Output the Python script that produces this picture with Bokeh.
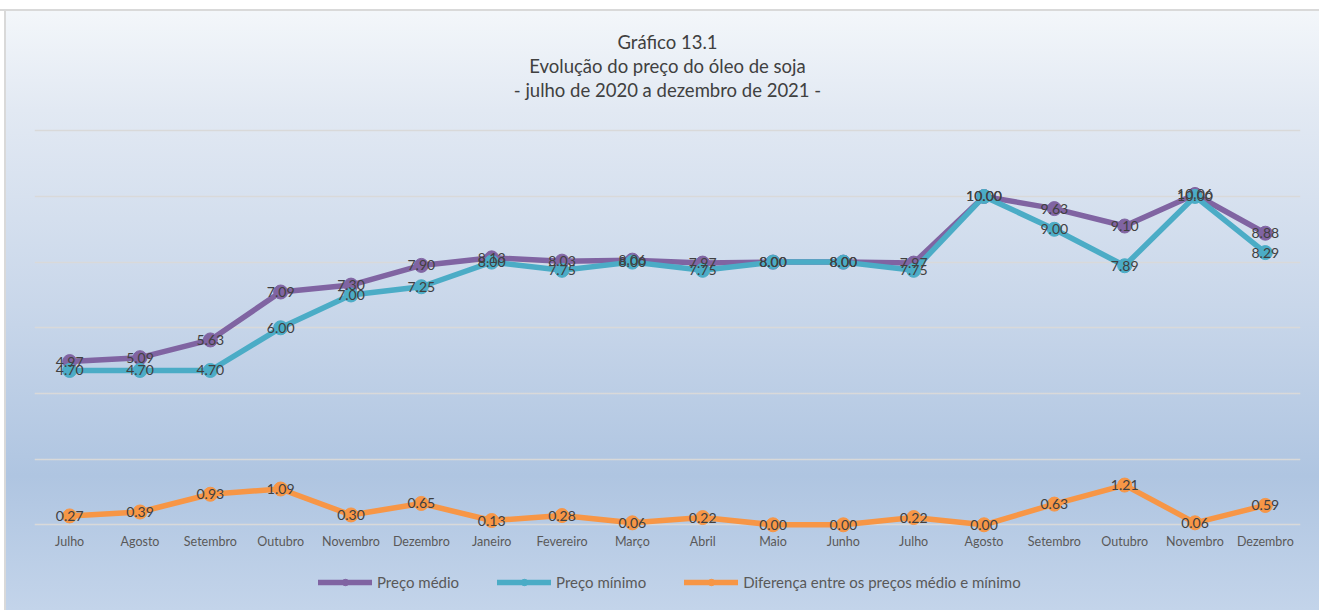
from bokeh.plotting import figure
from bokeh.models import ColumnDataSource, Range1d, FixedTicker, Legend, LegendItem, Title
from bokeh.core.properties import value
from bokeh.embed import file_html
from bokeh.resources import INLINE

months = ["Julho", "Agosto", "Setembro", "Outubro", "Novembro", "Dezembro",
          "Janeiro", "Fevereiro", "Março", "Abril", "Maio", "Junho",
          "Julho", "Agosto", "Setembro", "Outubro", "Novembro", "Dezembro"]
preco_medio = [4.97, 5.09, 5.63, 7.09, 7.30, 7.90, 8.13, 8.03, 8.06, 7.97, 8.00, 8.00,
               7.97, 10.00, 9.63, 9.10, 10.06, 8.88]
preco_minimo = [4.70, 4.70, 4.70, 6.00, 7.00, 7.25, 8.00, 7.75, 8.00, 7.75, 8.00, 8.00,
                7.75, 10.00, 9.00, 7.89, 10.00, 8.29]
diferenca = [0.27, 0.39, 0.93, 1.09, 0.30, 0.65, 0.13, 0.28, 0.06, 0.22, 0.00, 0.00,
             0.22, 0.00, 0.63, 1.21, 0.06, 0.59]
series_names = ["Preço médio", "Preço mínimo", "Diferença entre os preços médio e mínimo"]
title_lines = ["Gráfico 13.1", "Evolução do preço do óleo de soja",
               "- julho de 2020 a dezembro de 2021 -"]

FONT = "Lato"
colors = ["#8064a2", "#4bacc6", "#f79646"]

xs = list(range(len(months)))
source = ColumnDataSource(dict(
    x=xs,
    medio=preco_medio, minimo=preco_minimo, dif=diferenca,
    medio_lbl=[f"{v:.2f}" for v in preco_medio],
    minimo_lbl=[f"{v:.2f}" for v in preco_minimo],
    dif_lbl=[f"{v:.2f}" for v in diferenca],
))
axis_src = ColumnDataSource(dict(x=xs, y=[0] * len(xs), month=months))

p = figure(width=1319, height=610,
           x_range=Range1d(-0.5, len(months) - 0.5), y_range=Range1d(-2.61, 12.1),
           output_backend="svg", toolbar_location=None,
           min_border_left=34, min_border_right=19, min_border_top=127, min_border_bottom=0)

p.styles = {
    "background-image": (
        "linear-gradient(to bottom, #ffffff 0px, #ffffff 9px, #d9d9d9 9px, #d9d9d9 11px, rgba(255,255,255,0) 11px), "
        "linear-gradient(to right, #ffffff 0px, #ffffff 4px, #d9d9d9 4px, #d9d9d9 6px, rgba(255,255,255,0) 6px), "
        "linear-gradient(to bottom, #f5f8fb 0%, #e2e9f3 18%, #c9d7ea 50%, #afc5e1 78%, #c3d4ea 100%)"
    ),
}
p.background_fill_alpha = 0
p.border_fill_alpha = 0
p.outline_line_color = None

# titles: first added is closest to the frame
p.add_layout(Title(text=" ", text_font=FONT, text_font_size="12px"), "above")
for t in reversed(title_lines):
    p.add_layout(Title(text=t, align="center", text_font=FONT, text_font_size="18.5px",
                       text_font_style="normal", text_color="#404040", standoff=0), "above")

p.yaxis.visible = False
p.xaxis.visible = False
p.xgrid.visible = False
p.ygrid.ticker = FixedTicker(ticks=[0, 2, 4, 6, 8, 10, 12])
p.ygrid.grid_line_color = "#d9d9d9"
p.ygrid.grid_line_width = 1.5

# category labels under the zero line
p.text("x", "y", text="month", source=axis_src, y_offset=17, text_align="center",
       text_baseline="middle", text_font=value(FONT), text_font_size="12.5px",
       text_color="#595959")

renderers = []
for col, c in zip(["medio", "minimo", "dif"], colors):
    l = p.line("x", col, source=source, line_color=c, line_width=5.5, line_join="round",
               line_cap="round")
    s = p.scatter("x", col, source=source, size=14, fill_color=c, line_color=c)
    renderers.append([l, s])

for col in ["medio_lbl", "minimo_lbl", "dif_lbl"]:
    ycol = col.replace("_lbl", "")
    p.text("x", ycol, text=col, source=source, text_align="center", text_baseline="middle",
           text_font=value(FONT), text_font_size="14px", text_color="#404040")

legend = Legend(items=[LegendItem(label=n, renderers=r) for n, r in zip(series_names, renderers)],
                orientation="horizontal", location=(284, 19),
                glyph_width=54, glyph_height=16, label_standoff=5, spacing=38,
                label_text_font=FONT, label_text_font_size="15px", label_text_color="#595959",
                border_line_color=None, background_fill_alpha=0, margin=0, padding=0)
p.add_layout(legend, "center")

open("out.html", "w").write(file_html(p, INLINE))
